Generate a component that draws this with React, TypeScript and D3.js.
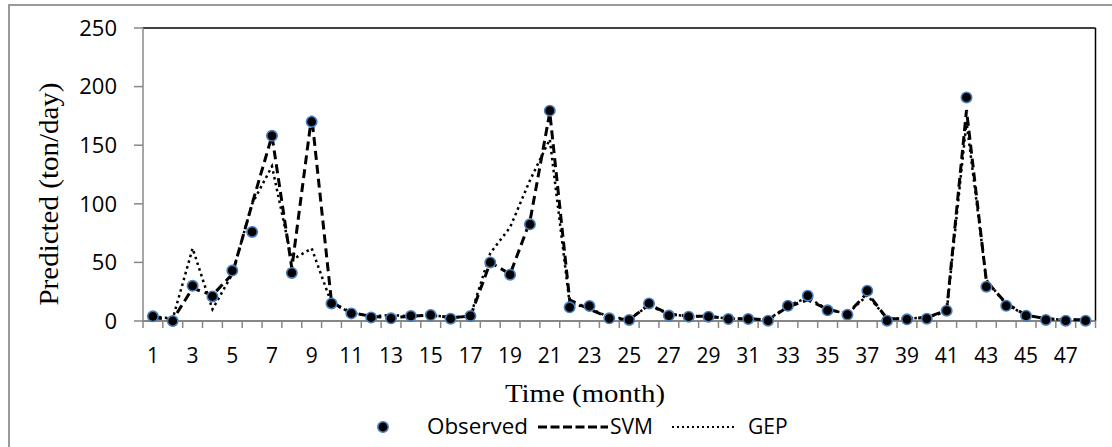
import React from 'react';
import * as d3 from 'd3';

// months 1..48
const months = d3.range(1, 49);

const observed = [4, 0, 30, 21, 43, 76, 158, 41, 170, 15, 6.5, 3, 2.3, 4.3, 5.1, 2, 4.3, 50, 39.5, 82.5,
  179.5, 11.7, 12.8, 2.3, 0.9, 15, 4.6, 3.7, 3.7, 1.7, 1.7, 0.3, 13, 21.6, 9.1, 5.4, 25.9, 0.3, 1.4, 2,
  8.8, 190.8, 29.3, 13, 4.5, 0.9, 0.3, 0.3];

const svm = [3, 1, 28, 22, 40, 100, 158, 45, 175, 16, 7, 4, 3, 4, 5, 3, 4, 50, 40, 85,
  178, 18, 10, 3, 1, 14, 6, 4, 4, 2, 2, 1, 12, 18, 10, 6, 24, 2, 2, 3,
  9, 180, 34, 15, 5, 2, 1, 1];

const gep = [4, 2, 62, 10, 40, 100, 132, 52, 62, 15, 7, 4, 5, 4, 5, 3, 4, 58, 80, 120,
  155, 15, 11, 3, 2, 13, 6, 4, 4, 2, 2, 1, 13, 20, 10, 6, 22, 2, 2, 3,
  8, 170, 35, 14, 5, 2, 1, 1];

const yTicks = [0, 50, 100, 150, 200, 250];

const W = 1112;
const H = 447;
const plot = { left: 143, right: 1095.5, top: 28, bottom: 321 };
const axisGray = '#878787';
const tickFont = '"Open Sans", "Noto Sans", sans-serif';
const serif = '"Liberation Serif", "Times New Roman", Times, serif';

export default function App() {
  const x = d3.scaleBand<number>()
    .domain(months)
    .range([plot.left, plot.right]);

  const y = d3.scaleLinear()
    .domain([0, 250])
    .range([plot.bottom, plot.top]);

  const cx = (m: number) => (x(m) as number) + x.bandwidth() / 2;

  const line = d3.line<number>()
    .x((_, i) => cx(months[i]))
    .y(d => y(d));

  // tick positions at band edges
  const edges = months.map(m => x(m) as number).concat([plot.right]);

  return (
    <svg width={W} height={H} style={{ position: 'absolute', left: 0, top: 0, background: '#fff' }}>
      {/* chart area border */}
      <line x1={8} x2={W} y1={5} y2={5} stroke="#9a9a9a" strokeWidth={2} />
      <line x1={9} x2={9} y1={5} y2={H} stroke="#9a9a9a" strokeWidth={2} />

      {/* plot frame */}
      <line x1={plot.left} x2={plot.right} y1={plot.top} y2={plot.top} stroke="#000" strokeWidth={1.5} />
      <line x1={plot.right} x2={plot.right} y1={plot.top} y2={plot.bottom} stroke="#000" strokeWidth={1.5} />

      {/* y axis */}
      <line x1={plot.left} x2={plot.left} y1={plot.top} y2={plot.bottom} stroke={axisGray} strokeWidth={1.5} />
      {yTicks.map(t => (
        <g key={t}>
          <line x1={plot.left - 9} x2={plot.left} y1={y(t)} y2={y(t)} stroke={axisGray} strokeWidth={1.5} />
          <text x={117} y={y(t)} dy="0.35em" textAnchor="end" fontFamily={tickFont} fontSize={22} fill="#000">{t}</text>
        </g>
      ))}

      {/* x axis */}
      <line x1={plot.left} x2={plot.right} y1={plot.bottom} y2={plot.bottom} stroke={axisGray} strokeWidth={2} />
      {edges.map((e, i) => (
        <line key={i} x1={e} x2={e} y1={plot.bottom} y2={plot.bottom + 7} stroke={axisGray} strokeWidth={1.5} />
      ))}
      {months.filter(m => m % 2 === 1).map(m => (
        <text key={m} x={cx(m)} y={356} dy="0.35em" textAnchor="middle" fontFamily={tickFont} fontSize={21} fill="#000">{m}</text>
      ))}

      {/* axis titles */}
      <text transform="translate(58,194) rotate(-90)" textAnchor="middle" fontFamily={serif} fontSize={27}
        textLength={223} lengthAdjust="spacingAndGlyphs" fill="#000">Predicted  (ton/day)</text>
      <text x={585} y={402} textAnchor="middle" fontFamily={serif} fontSize={25}
        textLength={160} lengthAdjust="spacingAndGlyphs" fill="#000">Time (month)</text>

      {/* series */}
      <path d={line(svm) || ''} fill="none" stroke="#000" strokeWidth={3} strokeDasharray="9,5" />
      <path d={line(gep) || ''} fill="none" stroke="#000" strokeWidth={2.5} strokeDasharray="2.5,3.5" />
      {observed.map((v, i) => (
        <circle key={i} cx={cx(months[i])} cy={y(v)} r={5.2} fill="#000" stroke="#4a7ebb" strokeWidth={1.6} />
      ))}

      {/* legend */}
      <circle cx={383} cy={427} r={5.2} fill="#000" stroke="#4a7ebb" strokeWidth={1.6} />
      <text x={427} y={434} fontFamily={tickFont} fontSize={21} fill="#000" textLength={101} lengthAdjust="spacingAndGlyphs">Observed</text>
      <line x1={538} x2={608} y1={427} y2={427} stroke="#000" strokeWidth={3} strokeDasharray="9,3.5" />
      <text x={610} y={434} fontFamily={tickFont} fontSize={21} fill="#000">SVM</text>
      <line x1={672} x2={737} y1={427} y2={427} stroke="#000" strokeWidth={2} strokeDasharray="2,3" />
      <text x={748} y={434} fontFamily={tickFont} fontSize={21} fill="#000">GEP</text>
    </svg>
  );
}
